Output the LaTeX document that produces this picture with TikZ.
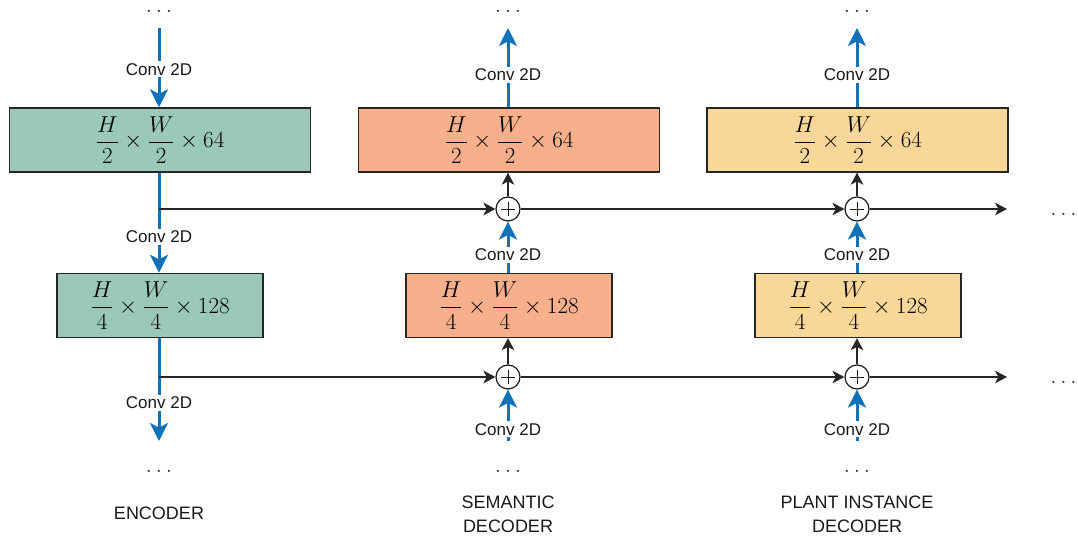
\documentclass[tikz,border=0pt]{standalone}
\usepackage{amsmath}
\usepackage{fontspec}
\setmainfont{Liberation Sans}
\usetikzlibrary{arrows.meta}
\definecolor{encgreen}{RGB}{154,201,183}
\definecolor{semorange}{RGB}{248,176,140}
\definecolor{plyellow}{RGB}{249,215,152}
\definecolor{convblue}{RGB}{16,115,186}
\begin{document}
\begin{tikzpicture}[x=0.75pt,y=-0.75pt,
  layerbox/.style={draw=black!85,line width=1.1pt,minimum height=48pt,inner sep=0pt,
    font=\fontsize{17.28}{20}\selectfont},
  wide/.style={minimum width=225.75pt},
  narrow/.style={minimum width=154.5pt},
  conv/.style={draw=convblue,line width=2.25pt,-{Stealth[length=13.5pt,width=13.5pt,inset=3.5pt]}},
  skip/.style={draw=black!85,line width=1.1pt,-{Stealth[length=9pt,width=9.5pt,inset=2.5pt]}},
  convlbl/.style={fill=white,inner sep=1.5pt,text=black!90,font=\fontsize{12.75}{14}\selectfont},
  addop/.style={circle,draw=black!90,fill=white,line width=0.9pt,minimum size=18pt,inner sep=0pt,
    path picture={\draw[line width=0.6pt] ([xshift=-5.2pt]path picture bounding box.center) -- ([xshift=5.2pt]path picture bounding box.center);
                  \draw[line width=0.6pt] ([yshift=-5.2pt]path picture bounding box.center) -- ([yshift=5.2pt]path picture bounding box.center);}},
  dotsn/.style={inner sep=0pt,anchor=base,text=black!80,font=\fontsize{17.28}{20}\selectfont},
  title/.style={align=center,text=black!90,font=\fontsize{13.5}{18}\selectfont}
]
\useasboundingbox (0,0) rectangle (1078,539);

% ---------------- Encoder ----------------
\node[layerbox,wide,fill=encgreen] (e1) at (160,140) {$\dfrac{H}{2}\times\dfrac{W}{2}\times 64$};
\node[layerbox,narrow,fill=encgreen] (e2) at (160,305.5) {$\dfrac{H}{4}\times\dfrac{W}{4}\times 128$};
\node[dotsn] (etop) at (159,12.5) {$\ldots$};
\node[dotsn] (ebot) at (159,472) {$\ldots$};
\coordinate (ein) at (159,28);
\coordinate (eout) at (159,441);
\coordinate (ea) at (159,209);
\coordinate (eb) at (159,377);
\draw[conv] (ein) -- node[convlbl,pos=0.52] {Conv 2D} (ein |- e1.north);
\draw[conv] (ein |- e1.south) -- node[convlbl,pos=0.64] {Conv 2D} (ein |- e2.north);
\draw[conv] (ein |- e2.south) -- node[convlbl,pos=0.63] {Conv 2D} (eout);
\node[title] (etitle) at (159,513) {ENCODER};

% ---------------- Semantic decoder ----------------
\node[layerbox,wide,fill=semorange] (s1) at (509,140) {$\dfrac{H}{2}\times\dfrac{W}{2}\times 64$};
\node[layerbox,narrow,fill=semorange] (s2) at (509,305.5) {$\dfrac{H}{4}\times\dfrac{W}{4}\times 128$};
\node[addop] (sa) at (508,209) {};
\node[addop] (sb) at (508,377) {};
\node[dotsn] (stop) at (508,12.5) {$\ldots$};
\node[dotsn] (sbot) at (508,472) {$\ldots$};
\coordinate (sout) at (508,28);
\coordinate (sin) at (508,441);
\draw[conv] (sout |- s1.north) -- node[convlbl,pos=0.41] {Conv 2D} (sout);
\draw[skip] (sa) -- (sa |- s1.south);
\draw[conv] (sa |- s2.north) -- node[convlbl,pos=0.35] {Conv 2D} (sa);
\draw[skip] (sb) -- (sb |- s2.south);
\draw[conv] (sin) -- node[convlbl,pos=0.23] {Conv 2D} (sb);
\node[title] (stitle) at (508,514) {SEMANTIC\\DECODER};

% ---------------- Plant instance decoder ----------------
\node[layerbox,wide,fill=plyellow] (p1) at (857.5,140) {$\dfrac{H}{2}\times\dfrac{W}{2}\times 64$};
\node[layerbox,narrow,fill=plyellow] (p2) at (858,305.5) {$\dfrac{H}{4}\times\dfrac{W}{4}\times 128$};
\node[addop] (pa) at (857,209) {};
\node[addop] (pb) at (857,377) {};
\node[dotsn] (ptop) at (857,12.5) {$\ldots$};
\node[dotsn] (pbot) at (857,472) {$\ldots$};
\coordinate (pout) at (857,28);
\coordinate (pin) at (857,441);
\draw[conv] (pout |- p1.north) -- node[convlbl,pos=0.41] {Conv 2D} (pout);
\draw[skip] (pa) -- (pa |- p1.south);
\draw[conv] (pa |- p2.north) -- node[convlbl,pos=0.35] {Conv 2D} (pa);
\draw[skip] (pb) -- (pb |- p2.south);
\draw[conv] (pin) -- node[convlbl,pos=0.23] {Conv 2D} (pb);
\node[title] (ptitle) at (857,514) {PLANT INSTANCE\\DECODER};

% ---------------- Skip connections ----------------
\coordinate (ra) at (1007,209);
\coordinate (rb) at (1007,377);
\draw[skip] (ea) -- (sa);
\draw[skip] (sa) -- (pa);
\draw[skip] (pa) -- (ra);
\draw[skip] (eb) -- (sb);
\draw[skip] (sb) -- (pb);
\draw[skip] (pb) -- (rb);
\node[dotsn,anchor=base east] (rdota) at (1077,215) {$\ldots$};
\node[dotsn,anchor=base east] (rdotb) at (1077,383) {$\ldots$};
\end{tikzpicture}
\end{document}
